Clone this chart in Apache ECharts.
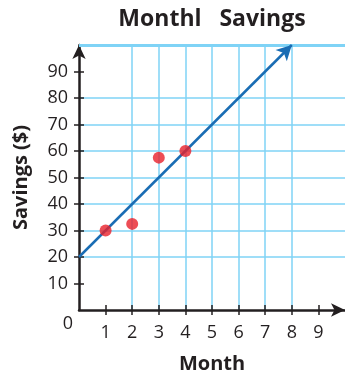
<!DOCTYPE html>
<html>
<head>
<meta charset="utf-8">
<script src="https://cdn.jsdelivr.net/npm/echarts@6/dist/echarts.min.js"></script>
<style>
  html, body { margin: 0; padding: 0; background: #ffffff; }
  #chart { width: 345px; height: 379px; }
</style>
</head>
<body>
<div id="chart"></div>
<script>
// Monthly savings: recorded points and the trend line y = 10x + 20
const months = [1, 2, 3, 4];
const savings = [30, 32.5, 57.5, 60];
const trendStart = [0, 20];
const trendEnd = [8, 100];
const xTickValues = [1, 2, 3, 4, 5, 6, 7, 8, 9];
const yTickValues = [10, 20, 30, 40, 50, 60, 70, 80, 90];

const INK = '#231f20';
const GRID = '#7fd3f6';
const FONT = '"Open Sans", "Noto Sans", sans-serif';

const chart = echarts.init(document.getElementById('chart'), null, { renderer: 'canvas' });

const baseX = {
  type: 'value', min: 0, max: 10, interval: 1, position: 'bottom'
};
const baseY = {
  type: 'value', min: 0, max: 100, interval: 10, position: 'left'
};

chart.setOption({
  animation: false,
  backgroundColor: '#ffffff',
  title: {
    text: 'Monthl   Savings',
    left: 207, top: 3, textAlign: 'center',
    textStyle: { fontFamily: FONT, fontSize: 23, fontWeight: 'bold', color: INK }
  },
  grid: { left: 79, right: 0, top: 45, bottom: 67, containLabel: false },
  xAxis: [
    Object.assign({}, baseX, {
      name: 'Month', nameLocation: 'middle', nameGap: 44,
      nameTextStyle: { fontFamily: FONT, fontSize: 20, fontWeight: 'bold', color: INK },
      axisLine: { show: true, symbol: ['none', 'arrow'], symbolSize: [10, 14],
        lineStyle: { color: INK, width: 2.5 } },
      axisTick: { show: true, customValues: xTickValues, length: 5, lineStyle: { color: INK, width: 1.5 } },
      axisLabel: { customValues: xTickValues, margin: 14,
        fontFamily: FONT, fontSize: 18, color: INK },
      splitLine: { show: true, showMinLine: false, showMaxLine: false,
        lineStyle: { color: GRID, width: 1.5 } }
    }),
    Object.assign({}, baseX, {
      axisLine: { show: false },
      axisTick: { show: true, inside: true, customValues: xTickValues, length: 5, lineStyle: { color: INK, width: 1.5 } },
      axisLabel: { show: false },
      splitLine: { show: false }
    })
  ],
  yAxis: [
    Object.assign({}, baseY, {
      name: 'Savings ($)', nameLocation: 'middle', nameGap: 48, nameRotate: 90,
      nameTextStyle: { fontFamily: FONT, fontSize: 20, fontWeight: 'bold', color: INK },
      axisLine: { show: true, symbol: ['none', 'arrow'], symbolSize: [10, 14],
        lineStyle: { color: INK, width: 2.5 } },
      axisTick: { show: true, customValues: yTickValues, length: 5, lineStyle: { color: INK, width: 1.5 } },
      axisLabel: { customValues: yTickValues, margin: 11,
        fontFamily: FONT, fontSize: 18, color: INK },
      splitLine: { show: true, showMinLine: false, showMaxLine: false,
        lineStyle: { color: GRID, width: 1.5 } }
    }),
    Object.assign({}, baseY, {
      axisLine: { show: false },
      axisTick: { show: true, inside: true, customValues: yTickValues, length: 5, lineStyle: { color: INK, width: 1.5 } },
      axisLabel: { show: false },
      splitLine: { show: false }
    })
  ],
  series: [
    {
      // top border of the grid and the trend line with its arrowhead
      type: 'line', data: [], xAxisIndex: 0, yAxisIndex: 0,
      markLine: {
        silent: true, animation: false,
        label: { show: false },
        data: [
          [
            { coord: [0, 100], symbol: 'none', lineStyle: { color: GRID, width: 3, type: 'solid' } },
            { coord: [10, 100], symbol: 'none' }
          ],
          [
            { coord: trendStart, symbol: 'none', lineStyle: { color: '#1a6db4', width: 2.5, type: 'solid' } },
            { coord: trendEnd, symbol: 'arrow', symbolSize: [12, 15] }
          ]
        ]
      }
    },
    {
      type: 'scatter', xAxisIndex: 0, yAxisIndex: 0,
      data: months.map((m, i) => [m, savings[i]]),
      symbol: 'circle', symbolSize: 12,
      itemStyle: { color: '#e8202a' },
      z: 5
    }
  ]
});

// origin label "0", set just below-left of the axes' corner
const origin = chart.convertToPixel({ gridIndex: 0 }, [0, 0]);
chart.setOption({
  graphic: [{
    type: 'text',
    x: origin[0] - 6, y: origin[1] + 14,
    style: { text: '0', fontFamily: FONT, fontSize: 18, fill: INK,
      align: 'right', verticalAlign: 'middle' }
  }]
});
</script>
</body>
</html>
